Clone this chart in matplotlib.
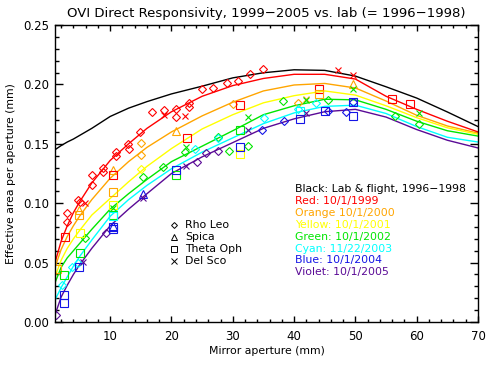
import matplotlib
matplotlib.use("Agg")
import matplotlib.pyplot as plt
from matplotlib.ticker import MultipleLocator

# epoch colours: red, orange, yellow, green, cyan, blue, violet
epochColors = ["#ff0000", "#ffa500", "#ffff00", "#00e600", "#00ffff", "#1414e6", "#5a0a96"]

# model curves, effective area vs mirror aperture
curveX = [1, 2, 3, 4, 5, 7, 10, 13, 16, 20, 25, 30, 35, 40, 45, 50, 55, 60, 65, 70]
labCurve = [0.145, 0.1485, 0.1515, 0.154, 0.157, 0.163, 0.173, 0.180, 0.1855, 0.192,
            0.1985, 0.2055, 0.2098, 0.2123, 0.2118, 0.207, 0.198, 0.1885, 0.1768, 0.1645]
red99 = [0.050, 0.068, 0.081, 0.092, 0.101, 0.117, 0.136, 0.150, 0.163, 0.177,
         0.190, 0.199, 0.205, 0.2085, 0.2085, 0.2045, 0.190, 0.179, 0.169, 0.160]
orange00 = [0.046, 0.061, 0.072, 0.081, 0.089, 0.103, 0.121, 0.135, 0.147, 0.160,
            0.1735, 0.185, 0.1945, 0.1995, 0.2008, 0.197, 0.186, 0.174, 0.165, 0.159]
yellow01 = [0.038, 0.052, 0.062, 0.070, 0.077, 0.090, 0.104, 0.118, 0.131, 0.146,
            0.1625, 0.1745, 0.1845, 0.1905, 0.1945, 0.191, 0.182, 0.172, 0.1635, 0.158]
green02 = [0.033, 0.046, 0.054, 0.060, 0.066, 0.078, 0.095, 0.108, 0.120, 0.135,
           0.148, 0.161, 0.1745, 0.182, 0.1875, 0.187, 0.179, 0.169, 0.161, 0.1565]
cyan03 = [0.0185, 0.029, 0.038, 0.047, 0.055, 0.069, 0.089, 0.103, 0.115, 0.129,
          0.143, 0.155, 0.167, 0.176, 0.1815, 0.1825, 0.1755, 0.1645, 0.1555, 0.1515]
violet05 = [0.006, 0.021, 0.031, 0.040, 0.048, 0.062, 0.081, 0.095, 0.108, 0.125,
            0.139, 0.151, 0.163, 0.171, 0.177, 0.179, 0.1725, 0.162, 0.153, 0.1465]

# measurements per star: aperture, area, epoch index
rhoX = [16.8, 18.7, 20.8, 20.8, 22.9, 14.9, 12.9, 13.0, 10.9, 10.9, 8.9, 8.9, 7.0, 7.0,
        4.8, 5.0, 2.9, 2.9, 34.9, 32.8, 30.9, 29.0, 26.8, 24.9, 22.9,
        15.1, 15.1, 30.0, 40.7,
        15.1,
        5.9, 15.4, 18.6, 22.2, 27.6, 32.5, 29.4, 38.2, 45.5, 56.4, 60.3,
        2.1, 4.8, 3.7, 27.6, 35.1, 40.7, 43.6, 23.8,
        34.7, 38.4, 48.5, 49.6, 45.6,
        1.2, 9.4, 24.1, 25.7, 27.6]
rhoY = [0.1765, 0.1785, 0.179, 0.1725, 0.181, 0.160, 0.150, 0.1454, 0.1434, 0.140, 0.1294, 0.1266, 0.1237, 0.1153,
        0.1027, 0.101, 0.0915, 0.0844, 0.213, 0.2088, 0.2029, 0.2015, 0.1967, 0.196, 0.184,
        0.1504, 0.1406, 0.1835, 0.1846,
        0.129,
        0.0705, 0.1223, 0.1307, 0.1434, 0.1554, 0.148, 0.144, 0.186, 0.1869, 0.173, 0.1667,
        0.031, 0.0494, 0.046, 0.1546, 0.1715, 0.179, 0.1846, 0.1454,
        0.1616, 0.169, 0.177, 0.1855, 0.178,
        0.006, 0.0746, 0.135, 0.142, 0.144]
rhoC = [0] * 25 + [1] * 4 + [2] + [3] * 11 + [4] * 8 + [5] * 5 + [6] * 5

spicaX = [4.9, 10.5, 20.8, 49.6, 15.3, 10.5]
spicaY = [0.0943, 0.128, 0.161, 0.200, 0.108, 0.081]
spicaC = [1, 1, 1, 1, 5, 5]

thetaX = [2.6, 10.5, 22.5, 31.2, 44.0, 56.0, 58.9,
          1.4, 4.9, 10.5, 44.0,
          5.0, 10.5, 31.2,
          2.5, 5.0, 10.5, 20.8, 31.2,
          10.5, 40.9,
          2.5, 2.5, 4.9, 10.5, 10.5, 20.8, 31.2, 40.9, 45.1, 49.6, 49.6]
thetaY = [0.0718, 0.1237, 0.1546, 0.1827, 0.196, 0.1875, 0.1835,
          0.045, 0.090, 0.1097, 0.192,
          0.0746, 0.0985, 0.1414,
          0.0396, 0.0583, 0.090, 0.1237, 0.1616,
          0.0892, 0.178,
          0.0227, 0.0163, 0.046, 0.080, 0.078, 0.128, 0.147, 0.1706, 0.178, 0.1855, 0.1734]
thetaC = [0] * 7 + [1] * 4 + [2] * 3 + [3] * 5 + [4] * 2 + [5] * 11

delX = [5.9, 18.8, 22.2, 47.2, 49.6,
        42.0,
        22.4, 32.5, 42.0, 49.6, 60.3, 10.5,
        5.6, 15.3, 22.4, 32.5, 42.0]
delY = [0.0999, 0.174, 0.1734, 0.212, 0.208,
        0.188,
        0.1476, 0.1728, 0.187, 0.196, 0.1756, 0.096,
        0.0508, 0.104, 0.131, 0.1616, 0.1756]
delC = [0] * 5 + [1] + [3] * 6 + [6] * 5

starNames = ["Rho Leo", "Spica", "Theta Oph", "Del Sco"]
epochLabels = ["Black: Lab & flight, 1996\u22121998", "Red: 10/1/1999", "Orange 10/1/2000",
               "Yellow: 10/1/2001", "Green: 10/1/2002", "Cyan: 11/22/2003",
               "Blue: 10/1/2004", "Violet: 10/1/2005"]

plt.rcParams['font.family'] = ['DejaVu Sans']
fig = plt.figure(figsize=(4.92, 3.74), dpi=100)
ax = fig.add_axes([55 / 492, 52 / 374, 423 / 492, 297 / 374])

ax.plot(curveX, labCurve, color="black", lw=1)
for ys, c in zip([red99, orange00, yellow01, green02, cyan03, violet05],
                 [0, 1, 2, 3, 4, 6]):
    ax.plot(curveX, ys, color=epochColors[c], lw=1)

markers = ["D", "^", "s", "x"]
sizes = [4, 5.5, 6, 5]
for xs, ys, cs, m, s in zip([rhoX, spicaX, thetaX, delX], [rhoY, spicaY, thetaY, delY],
                            [rhoC, spicaC, thetaC, delC], markers, sizes):
    for x, y, c in zip(xs, ys, cs):
        if m == "x":
            ax.plot(x, y, m, color=epochColors[c], ms=s, mew=0.8)
        else:
            ax.plot(x, y, m, mfc="none", mec=epochColors[c], ms=s, mew=0.8)

# symbol key
for i, (name, m, s) in enumerate(zip(starNames, markers, sizes)):
    yy = (322 - 225 - 12 * i) / 297
    if m == "x":
        ax.plot(0.281, yy, m, color="black", ms=s - 0.5, mew=0.7, transform=ax.transAxes)
    else:
        ax.plot(0.281, yy, m, mfc="none", mec="black", ms=s - 1, mew=0.7, transform=ax.transAxes)
    ax.text(0.307, yy, name, fontsize=7.8, va="center", transform=ax.transAxes)

# colour key
for i, lab in enumerate(epochLabels):
    col = "black" if i == 0 else epochColors[i - 1]
    ax.text(0.567, (322 - 189 - 11.9 * i) / 297, lab, color=col, fontsize=7.8,
            va="center", transform=ax.transAxes)

ax.set_xlim(1, 70)
ax.set_ylim(0, 0.25)
ax.xaxis.set_major_locator(MultipleLocator(10))
ax.xaxis.set_minor_locator(MultipleLocator(2))
ax.yaxis.set_major_locator(MultipleLocator(0.05))
ax.yaxis.set_minor_locator(MultipleLocator(0.01))
ax.yaxis.set_major_formatter(plt.FormatStrFormatter("%.2f"))
ax.tick_params(which="both", direction="in", top=True, right=True, labelsize=8.5, width=1)
ax.tick_params(axis="x", which="major", length=4.5, pad=6)
ax.tick_params(axis="x", which="minor", length=2.5)
ax.tick_params(axis="y", which="major", length=6, pad=4)
ax.tick_params(axis="y", which="minor", length=3)
for sp in ax.spines.values():
    sp.set_linewidth(1)

ax.set_title("OVI Direct Responsivity, 1999\u22122005 vs. lab (= 1996\u22121998)", fontsize=9.5, pad=6)
ax.set_xlabel("Mirror aperture (mm)", fontsize=7.8, labelpad=2)
ax.set_ylabel("Effective area per aperture (mm)", fontsize=7.8, labelpad=5)

fig.savefig("out.png", dpi=100)
